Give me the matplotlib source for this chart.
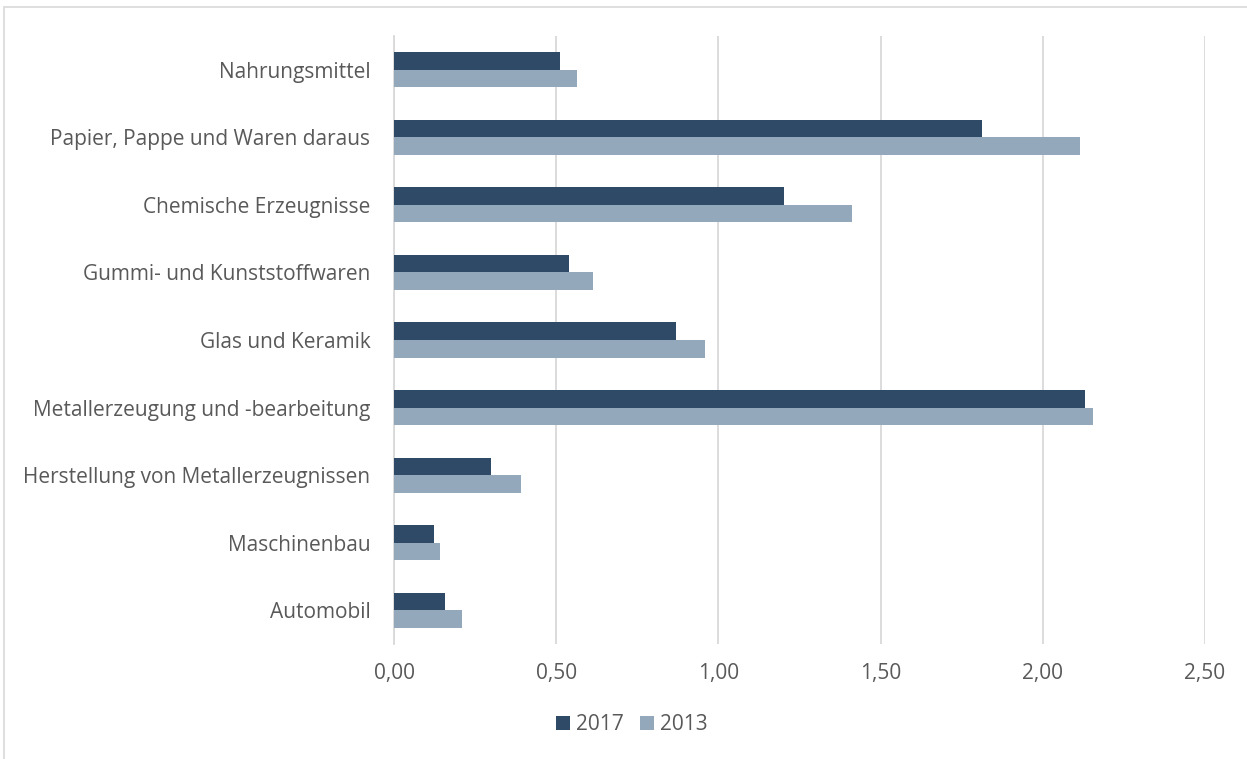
import matplotlib.pyplot as plt
import matplotlib.patches as patches
import numpy as np

plt.rcParams['font.family'] = ['Open Sans', 'DejaVu Sans']

# Branchen und Werte je Jahr
branchen = ['Nahrungsmittel', 'Papier, Pappe und Waren daraus', 'Chemische Erzeugnisse',
            'Gummi- und Kunststoffwaren', 'Glas und Keramik', 'Metallerzeugung und -bearbeitung',
            'Herstellung von Metallerzeugnissen', 'Maschinenbau', 'Automobil']
werte_2017 = [0.513, 1.814, 1.202, 0.539, 0.868, 2.130, 0.298, 0.122, 0.158]
werte_2013 = [0.565, 2.115, 1.411, 0.613, 0.958, 2.154, 0.393, 0.142, 0.210]
x_ticks = [0, 0.5, 1.0, 1.5, 2.0, 2.5]
x_labels = ['0,00', '0,50', '1,00', '1,50', '2,00', '2,50']

farbe_2017 = '#2E4A66'
farbe_2013 = '#94A8BC'
textfarbe = '#595959'

W, H = 1247, 759
fig = plt.figure(figsize=(W / 100, H / 100), dpi=100)

# Rahmen um das Diagramm
fig.add_artist(patches.Rectangle((4 / W, -0.1), 1.2, 1 - 7 / H + 0.1, transform=fig.transFigure,
                                 fill=False, edgecolor='#D9D9D9', linewidth=1.2))

ax = fig.add_axes([394 / W, 1 - 644 / H, (1205 - 394) / W, (644 - 36) / H])

y = np.arange(len(branchen))
h = 0.26
ax.barh(y - h / 2, werte_2017, height=h, color=farbe_2017, label='2017', zorder=3)
ax.barh(y + h / 2, werte_2013, height=h, color=farbe_2013, label='2013', zorder=3)

ax.set_ylim(len(branchen) - 0.5, -0.5)
ax.set_xlim(0, 2.5)
ax.set_xticks(x_ticks)
ax.set_xticklabels(x_labels)
ax.set_yticks(y)
ax.set_yticklabels(branchen)

ax.grid(axis='x', color='#D9D9D9', linewidth=1.3, zorder=0)
for side in ['top', 'right', 'bottom']:
    ax.spines[side].set_visible(False)
ax.spines['left'].set_color('#D9D9D9')
ax.spines['left'].set_linewidth(1.3)
ax.tick_params(axis='both', length=0, colors=textfarbe, labelsize=15)
ax.tick_params(axis='x', pad=14)
ax.tick_params(axis='y', pad=17)

ax.legend(loc='center', bbox_to_anchor=((632 - 394) / (1205 - 394), -0.133), ncol=2, frameon=False,
          fontsize=15, labelcolor=textfarbe, handlelength=0.65, handleheight=0.65,
          handletextpad=0.3, columnspacing=0.8)

fig.savefig('out.png', dpi=100)
